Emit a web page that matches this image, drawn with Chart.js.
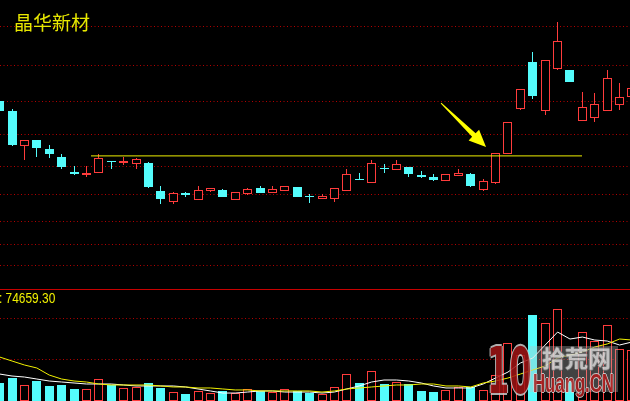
<!DOCTYPE html>
<html lang="zh-CN">
<head>
    <meta charset="UTF-8">
    <title>晶华新材</title>
    <style>
        body {
            margin: 0;
            width: 630px;
            height: 401px;
            overflow: hidden;
            background-color: #000;
            position: relative;
        }
        #priceBox {
            position: absolute;
            left: 0;
            top: 0;
            width: 630px;
            height: 289px;
        }
        #volBox {
            position: absolute;
            left: 0;
            top: 289px;
            width: 630px;
            height: 111px;
            border-top: 1px solid #c80000;
        }
        .title {
            position: absolute;
            left: 14px;
            top: 12px;
            font-family: "Noto Sans CJK SC", sans-serif;
            font-size: 19px;
            line-height: 19px;
            color: #e8e800;
            white-space: nowrap;
        }
        .vol-label {
            position: absolute;
            left: -1px;
            top: 291px;
            font-family: "Liberation Sans", sans-serif;
            font-size: 14px;
            line-height: 14px;
            color: #f0f000;
            transform: scaleX(0.85);
            transform-origin: left top;
            white-space: pre;
        }
        .wm { position: absolute; left: 0; top: 0; width: 1000px; pointer-events: none; }
        .wm div { white-space: nowrap; }
        .wm-box {
            position: absolute;
            left: 530px; top: 346px; width: 88px; height: 46px;
            background: rgba(190, 190, 190, 0.35);
        }
        .wm-10 {
            position: absolute;
            left: 487px; top: 339px;
            font-family: "DejaVu Sans", sans-serif;
            font-weight: bold;
            font-size: 64px;
            line-height: 64px;
            color: #a01414;
            transform: scaleX(0.5);
            transform-origin: left top;
            text-shadow: 2px 0 0 #ccc, -2px 0 0 #ccc, 0 2px 0 #ccc, 0 -2px 0 #ccc;
            opacity: 0.85;
        }
        .wm-cn {
            position: absolute;
            left: 542px; top: 346px;
            font-family: "Noto Sans CJK SC", sans-serif;
            font-weight: bold;
            font-size: 23px;
            line-height: 23px;
            color: #d8d8d8;
            text-shadow: 1px 0 0 #777, -1px 0 0 #777, 0 1px 0 #777, 0 -1px 0 #777;
            opacity: 0.85;
        }
        .wm-en {
            position: absolute;
            left: 533px; top: 371px;
            font-family: "Liberation Sans", sans-serif;
            font-weight: bold;
            font-size: 25px;
            line-height: 25px;
            color: #b01c1c;
            transform: scaleX(0.67);
            transform-origin: left top;
            text-shadow: 1px 0 0 #ddd, -1px 0 0 #ddd, 0 1px 0 #ddd, 0 -1px 0 #ddd;
            opacity: 0.85;
        }
    </style>
    <script src="https://cdn.jsdelivr.net/npm/chart.js"></script>
</head>
<body>
    <div id="priceBox"><canvas id="priceChart" width="630" height="289"></canvas></div>
    <div id="volBox"><canvas id="volChart" width="630" height="111"></canvas></div>
    <div class="title">晶华新材</div>
    <div class="vol-label">: 74659.30</div>
    <div class="wm">
        <div class="wm-box"></div>
        <div class="wm-10">10</div>
        <div class="wm-cn">拾荒网</div>
        <div class="wm-en">Huang.CN</div>
    </div>

    <script>
        // 日K线 (开/收/高/低)
        const openPrices = [12.50, 12.17, 11.00, 11.20, 10.90, 10.63, 10.13, 10.03, 10.10, 10.50,
            10.43, 10.40, 10.43, 9.50, 9.13, 9.43, 9.20, 9.50, 9.53, 9.20,
            9.40, 9.60, 9.43, 9.50, 9.63, 9.33, 9.23, 9.23, 9.50, 9.90,
            9.77, 10.27, 10.20, 10.30, 10.03, 9.97, 9.83, 10.00, 10.07, 9.53,
            9.77, 10.73, 12.23, 13.80, 12.17, 13.57, 13.53, 11.83, 11.93, 12.17,
            12.37, 12.63];
        const closePrices = [12.17, 11.03, 11.20, 10.93, 10.73, 10.30, 10.07, 10.10, 10.60, 10.47,
            10.50, 10.57, 9.63, 9.23, 9.43, 9.37, 9.53, 9.60, 9.30, 9.47,
            9.57, 9.43, 9.57, 9.67, 9.30, 9.30, 9.33, 9.60, 10.07, 9.87,
            10.43, 10.23, 10.40, 10.07, 9.97, 9.87, 10.07, 10.10, 9.67, 9.83,
            10.77, 11.80, 12.90, 12.67, 13.87, 14.50, 13.13, 12.30, 12.40, 13.27,
            12.63, 12.93];
        const highPrices = [12.70, 12.23, 11.20, 11.20, 11.03, 10.73, 10.33, 10.33, 10.73, 10.50,
            10.63, 10.60, 10.47, 9.67, 9.47, 9.47, 9.67, 9.60, 9.57, 9.47,
            9.60, 9.67, 9.67, 9.67, 9.63, 9.40, 9.40, 9.60, 10.23, 10.10,
            10.53, 10.40, 10.53, 10.30, 10.17, 10.07, 10.07, 10.23, 10.10, 9.90,
            10.77, 11.80, 12.90, 14.13, 13.87, 15.13, 13.53, 12.80, 12.77, 13.53,
            13.10, 12.93];
        const lowPrices = [12.10, 11.00, 10.53, 10.63, 10.60, 10.23, 10.03, 9.97, 10.10, 10.23,
            10.37, 10.23, 9.60, 9.07, 9.07, 9.30, 9.20, 9.47, 9.30, 9.20,
            9.37, 9.43, 9.43, 9.50, 9.30, 9.10, 9.23, 9.13, 9.50, 9.87,
            9.77, 10.10, 10.20, 9.97, 9.93, 9.83, 9.83, 10.00, 9.63, 9.50,
            9.73, 10.73, 12.20, 12.57, 12.03, 13.53, 13.13, 11.83, 11.80, 12.17,
            12.20, 12.63];

        // 成交量及均量线
        const volumes = [21700, 27700, 19300, 24100, 18100, 19300, 14500, 14500, 26500, 19300,
            15700, 16900, 21700, 15700, 10800, 8400, 12100, 9600, 12100, 9600,
            14500, 12100, 10800, 14500, 12100, 9600, 8400, 16900, 32500, 21700,
            36200, 20500, 22900, 20500, 12100, 10800, 13300, 16900, 16900, 13300,
            31300, 69900, 55400, 103600, 94000, 110900, 25300, 83100, 72300, 91600,
            62700, 61500];
        const volMa5 = [32500, 30100, 28900, 26500, 24100, 22900, 21700, 20500, 20500, 20500,
            19300, 18100, 18100, 18100, 18100, 16900, 14500, 12100, 9600, 9600,
            10800, 12100, 12100, 10800, 10800, 10800, 9600, 10800, 14500, 18100,
            22900, 25300, 25300, 24100, 21700, 18100, 15700, 15700, 15700, 20500,
            27700, 34900, 45800, 51800, 67500, 83100, 74700, 77100, 73500, 72300,
            67500, 71100];
        const volMa10 = [53000, 48200, 43400, 39800, 31300, 26500, 24100, 22900, 20500, 19300,
            19300, 19300, 19300, 18100, 16900, 16900, 15700, 15700, 14500, 13300,
            13300, 12100, 12100, 12100, 12100, 12100, 10800, 12100, 14500, 15700,
            16900, 18100, 19300, 19300, 20500, 20500, 18100, 18100, 16900, 21700,
            24100, 27700, 32500, 37400, 42200, 51800, 55400, 59000, 65100, 68700,
            74700, 73500];

        // 网格线 / 支撑线 / 箭头
        const gridPrices = [14.97, 13.67, 12.50, 11.40, 10.33, 9.37, 8.47, 7.70, 7.00];
        const volGrid = [50000, 100000];
        const supportPrice = 10.67;
        const supportFrom = 7.37;
        const supportTo = 46.97;
        const arrowFrom = [35.6, 12.43];
        const arrowTo = [39.23, 10.97];

        const RED = '#ff3c3c';
        const CYAN = '#54fcfc';
        const GRID = '#b40000';

        const idx = openPrices.map((_, i) => i);
        const isUp = i => closePrices[i] >= openPrices[i];

        const xScale = {
            type: 'linear',
            min: 0.03,
            max: 50.84,
            bounds: 'data',
            offset: false,
            display: false
        };

        function gridAxis(min, max, values) {
            return {
                min: min,
                max: max,
                bounds: 'data',
                afterBuildTicks: axis => { axis.ticks = values.map(v => ({ value: v })); },
                ticks: { display: false },
                grid: { color: GRID, lineWidth: 1, drawTicks: false },
                border: { display: false, dash: [1, 2.5] }
            };
        }

        // 把柱子对齐到整像素, 否则1px的边框会发虚
        const snapPlugin = {
            id: 'snap',
            beforeDatasetsDraw(chart) {
                chart.getSortedVisibleDatasetMetas().forEach(meta => {
                    if (meta.type !== 'bar') return;
                    meta.data.forEach(el => {
                        el.x = Math.round(el.x - 0.5) + 0.5;
                        el.y = Math.round(el.y);
                        el.base = Math.round(el.base);
                    });
                });
            }
        };

        const arrowPlugin = {
            id: 'arrow',
            afterDatasetsDraw(chart) {
                const { ctx, scales: { x, y } } = chart;
                const x0 = x.getPixelForValue(arrowFrom[0]), y0 = y.getPixelForValue(arrowFrom[1]);
                const x1 = x.getPixelForValue(arrowTo[0]), y1 = y.getPixelForValue(arrowTo[1]);
                const len = Math.hypot(x1 - x0, y1 - y0);
                const ux = (x1 - x0) / len, uy = (y1 - y0) / len;
                const nx = -uy, ny = ux;
                const bx = x1 - ux * 17, by = y1 - uy * 17;
                ctx.save();
                ctx.fillStyle = '#ffff00';
                ctx.beginPath();
                ctx.moveTo(x0 + nx * 0.5, y0 + ny * 0.5);
                ctx.lineTo(bx + nx * 2.5, by + ny * 2.5);
                ctx.lineTo(bx + nx * 7.5, by + ny * 7.5);
                ctx.lineTo(x1, y1);
                ctx.lineTo(bx - nx * 7.5, by - ny * 7.5);
                ctx.lineTo(bx - nx * 2.5, by - ny * 2.5);
                ctx.lineTo(x0 - nx * 0.5, y0 - ny * 0.5);
                ctx.closePath();
                ctx.fill();
                ctx.restore();
            }
        };

        const common = {
            responsive: false,
            animation: false,
            devicePixelRatio: 1,
            events: [],
            layout: { padding: 0 },
            plugins: { legend: { display: false }, tooltip: { enabled: false } }
        };

        new Chart(document.getElementById('priceChart'), {
            type: 'bar',
            data: {
                datasets: [
                    {
                        type: 'line',
                        data: [{ x: supportFrom, y: supportPrice }, { x: supportTo, y: supportPrice }],
                        borderColor: '#f0f000',
                        borderWidth: 1,
                        pointRadius: 0,
                        order: 0
                    },
                    {
                        data: idx.map(i => ({ x: i, y: [openPrices[i], closePrices[i]] })),
                        backgroundColor: idx.map(i => isUp(i) ? '#000' : CYAN),
                        borderColor: idx.map(i => isUp(i) ? RED : CYAN),
                        borderWidth: 1,
                        borderSkipped: false,
                        inflateAmount: 0,
                        barThickness: 9,
                        maxBarThickness: 9,
                        minBarLength: 1,
                        grouped: false,
                        order: 1
                    },
                    {
                        data: idx.map(i => ({ x: i, y: [lowPrices[i], highPrices[i]] })),
                        backgroundColor: idx.map(i => isUp(i) ? RED : CYAN),
                        borderWidth: 0,
                        inflateAmount: 0,
                        barThickness: 1,
                        maxBarThickness: 1,
                        grouped: false,
                        order: 2
                    }
                ]
            },
            options: {
                ...common,
                scales: { x: xScale, y: gridAxis(6.23, 15.87, gridPrices) }
            },
            plugins: [snapPlugin, arrowPlugin]
        });

        new Chart(document.getElementById('volChart'), {
            type: 'bar',
            data: {
                datasets: [
                    {
                        type: 'line',
                        data: idx.map(i => ({ x: i, y: volMa10[i] })),
                        borderColor: '#f0f000',
                        borderWidth: 1,
                        pointRadius: 0,
                        tension: 0,
                        order: 0
                    },
                    {
                        type: 'line',
                        data: idx.map(i => ({ x: i, y: volMa5[i] })),
                        borderColor: '#ffffff',
                        borderWidth: 1,
                        pointRadius: 0,
                        tension: 0,
                        order: 1
                    },
                    {
                        data: idx.map(i => ({ x: i, y: volumes[i] })),
                        backgroundColor: idx.map(i => isUp(i) ? '#000' : CYAN),
                        borderColor: idx.map(i => isUp(i) ? RED : CYAN),
                        borderWidth: 1,
                        borderSkipped: false,
                        inflateAmount: 0,
                        barThickness: 9,
                        maxBarThickness: 9,
                        grouped: false,
                        order: 2
                    }
                ]
            },
            options: {
                ...common,
                scales: { x: xScale, y: gridAxis(0, 133800, volGrid) }
            },
            plugins: [snapPlugin]
        });
    </script>
</body>
</html>
